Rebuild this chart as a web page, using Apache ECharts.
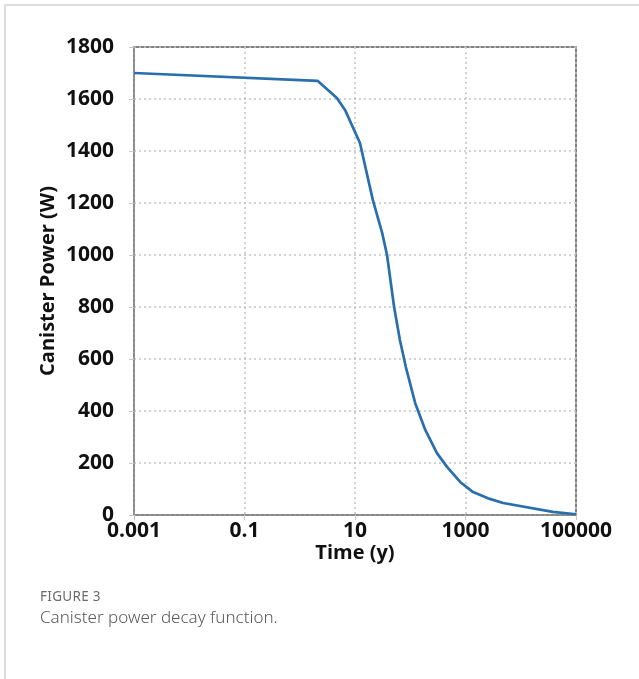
<!DOCTYPE html>
<html>
<head>
<meta charset="utf-8">
<script src="https://cdn.jsdelivr.net/npm/echarts@6/dist/echarts.min.js"></script>
<style>
  html, body { margin: 0; padding: 0; background: #fff; }
  #frame {
    position: absolute; left: 4px; top: 4px; width: 640px; height: 680px;
    border-top: 2px solid #dcdcdc; border-left: 2px solid #dcdcdc;
  }
  #chart { position: absolute; left: 0; top: 0; width: 639px; height: 679px; }
  .cap1 { position: absolute; left: 40px; top: 587px; font-family: "Noto Sans", sans-serif;
          font-size: 13.5px; color: #6b6b6b; letter-spacing: 0.3px; }
  .cap2 { position: absolute; left: 40px; top: 605px; font-family: "Noto Sans", sans-serif;
          font-size: 17px; color: #5a5a5a; font-weight: 300; }
</style>
</head>
<body>
<div id="frame"></div>
<div id="chart"></div>
<div class="cap1">FIGURE 3</div>
<div class="cap2">Canister power decay function.</div>
<script>
// Decay of canister heat output over time (years, log scale)
const timeYears = [0.001, 2.1, 4.7, 6.6, 12.3, 21, 31, 38, 51, 65, 83, 123, 187, 304, 463, 800, 1370, 2750, 4800, 38000, 100000];
const powerW    = [1700, 1670, 1604, 1558, 1431, 1212, 1085, 1000, 800, 673, 570, 430, 327, 238, 185, 127, 88, 62, 46, 12, 3];
const yTicks = { min: 0, max: 1800, step: 200 };
const xRange = { min: 0.001, max: 100000 };

const points = timeYears.map((t, i) => [t, powerW[i]]);
const font = '"Open Sans", sans-serif';

const chart = echarts.init(document.getElementById('chart'), null, { renderer: 'canvas' });
chart.setOption({
  animation: false,
  grid: {
    left: 134, right: 63, top: 47, bottom: 164,
    show: true, borderColor: '#595959', borderWidth: 1.5, backgroundColor: 'transparent'
  },
  xAxis: {
    type: 'log', logBase: 10, min: xRange.min, max: xRange.max, interval: 2,
    name: 'Time (y)', nameLocation: 'middle', nameGap: 28, nameMoveOverlap: false,
    nameTextStyle: { fontFamily: font, fontWeight: 'bold', fontSize: 20, color: '#111' },
    axisLine: { show: true, lineStyle: { color: '#8c8c8c', width: 1.5 } },
    axisTick: { show: true, length: 5, lineStyle: { color: '#c8c8c8' } },
    axisLabel: { fontFamily: font, fontWeight: 'bold', fontSize: 21, color: '#111', margin: 6,
                 formatter: v => String(+v.toPrecision(6)) },
    splitLine: { show: true, lineStyle: { color: '#c4c4c4', type: [2, 3], width: 1.5 } }
  },
  yAxis: {
    type: 'value', min: yTicks.min, max: yTicks.max, interval: yTicks.step,
    name: 'Canister Power (W)', nameLocation: 'middle', nameGap: 76, nameMoveOverlap: false, nameRotate: 90,
    nameTextStyle: { fontFamily: font, fontWeight: 'bold', fontSize: 20, color: '#111' },
    axisLine: { show: true, lineStyle: { color: '#8c8c8c', width: 1.5 } },
    axisTick: { show: true, length: 5, lineStyle: { color: '#c8c8c8' } },
    axisLabel: { fontFamily: font, fontWeight: 'bold', fontSize: 21, color: '#111', margin: 20,
                 formatter: v => String(v) },
    splitLine: { show: true, lineStyle: { color: '#c4c4c4', type: [2, 3], width: 1.5 } }
  },
  series: [{
    type: 'line', data: points, showSymbol: false,
    lineStyle: { color: '#2a6fad', width: 2.7 }
  }]
});
</script>
</body>
</html>
